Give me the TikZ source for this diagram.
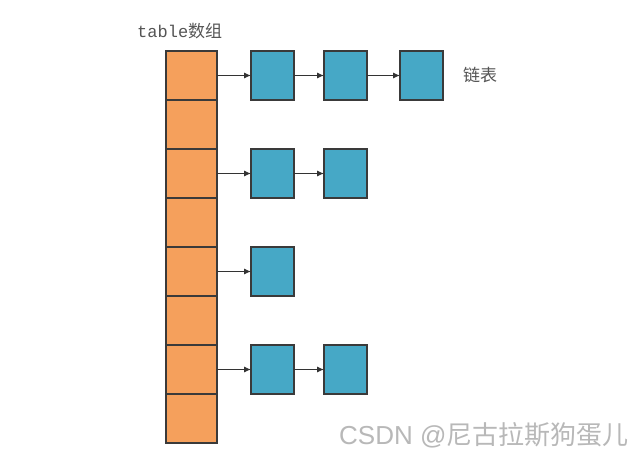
\documentclass[tikz,border=0pt]{standalone}
\usepackage{fontspec}
\setmainfont{Liberation Sans}
\newfontfamily\cjk{Noto Sans CJK SC}
\newfontfamily\monof{Liberation Mono}
\usetikzlibrary{arrows.meta}
\definecolor{cellorange}{HTML}{F5A05C}
\definecolor{nodeblue}{HTML}{46A8C6}
\definecolor{edgegray}{HTML}{3A3A3A}
\definecolor{txtgray}{HTML}{555555}
\definecolor{wmgray}{HTML}{B8B8B8}
\tikzset{
  cell/.style={draw=edgegray, line width=1.2pt, fill=cellorange, minimum width=51pt, minimum height=49pt, inner sep=0pt, outer sep=0pt},
  lnode/.style={draw=edgegray, line width=1.2pt, fill=nodeblue, minimum width=43pt, minimum height=49pt, inner sep=0pt, outer sep=0pt},
  link/.style={draw=black!80, line width=0.9pt, -{Latex[length=7pt,width=6pt]}},
  lbl/.style={text=txtgray, inner sep=0pt}
}
\begin{document}
\begin{tikzpicture}[x=1pt,y=-1pt]
\useasboundingbox (0,0) rectangle (642,458);
\fill[white] (0,0) rectangle (642,458);
% table cells
\foreach \i in {0,...,7} {
  \node[cell, anchor=north west] (c\i) at (166,{51+49*\i}) {};
}
% linked nodes
\node[lnode, anchor=north west] (a1) at (251,51) {};
\node[lnode, anchor=north west] (a2) at (324,51) {};
\node[lnode, anchor=north west] (a3) at (400,51) {};
\node[lnode, anchor=north west] (b1) at (251,149) {};
\node[lnode, anchor=north west] (b2) at (324,149) {};
\node[lnode, anchor=north west] (d1) at (251,247) {};
\node[lnode, anchor=north west] (e1) at (251,345) {};
\node[lnode, anchor=north west] (e2) at (324,345) {};
% connectors
\draw[link] (c0.east) -- (a1.west);
\draw[link] (a1.east) -- (a2.west);
\draw[link] (a2.east) -- (a3.west);
\draw[link] (c2.east) -- (b1.west);
\draw[link] (b1.east) -- (b2.west);
\draw[link] (c4.east) -- (d1.west);
\draw[link] (c6.east) -- (e1.west);
\draw[link] (e1.east) -- (e2.west);
% labels
\node[lbl, anchor=west, font=\fontsize{17}{17}\selectfont] (title) at (137,31) {\monof table\cjk 数组};
\node[lbl, anchor=west, font=\cjk\fontsize{17}{17}\selectfont] (llabel) at (463,75) {链表};
\node[text=wmgray, anchor=west, inner sep=0pt, font=\fontsize{26}{26}\selectfont] (wm) at (339,435) {CSDN @{\cjk 尼古拉斯狗蛋儿}};
\end{tikzpicture}
\end{document}
